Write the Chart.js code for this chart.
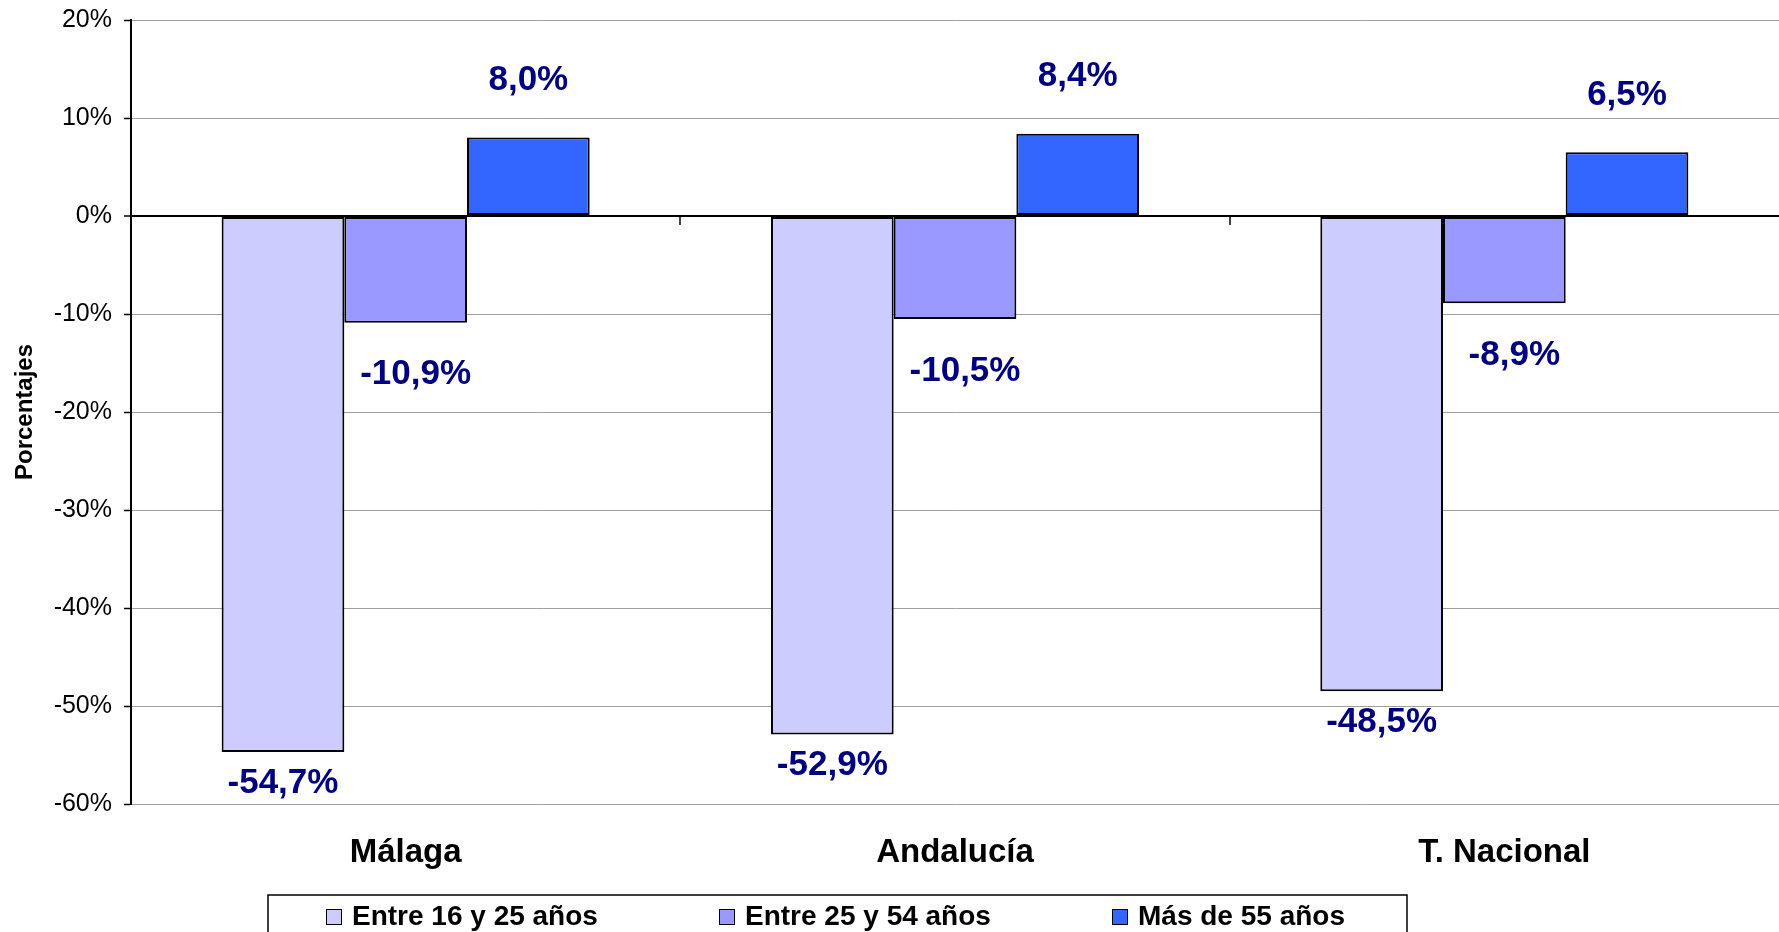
<!DOCTYPE html>
<html>
<head>
<meta charset="utf-8">
<title>Variación por grupos de edad</title>
<script src="https://cdn.jsdelivr.net/npm/chart.js@4.4.1/dist/chart.umd.min.js"></script>
<style>
  html, body { margin: 0; padding: 0; background: #fff; }
  canvas { display: block; }
</style>
</head>
<body>
<canvas id="canvas-1" width="1779" height="932"></canvas>
<script>
// datos
var territorios = ['Málaga', 'Andalucía', 'T. Nacional'];
var grupos = ['Entre 16 y 25 años', 'Entre 25 y 54 años', 'Más de 55 años'];
var entre16y25 = [-54.7, -52.9, -48.5];
var entre25y54 = [-10.9, -10.5, -8.9];
var masDe55 = [8.0, 8.4, 6.5];

var FONT = '"Liberation Sans", Arial, sans-serif';
var colores = ['#CCCCFF', '#9999FF', '#3366FF'];

var fmt = function (v) {
  return v.toFixed(1).replace('.', ',') + '%';
};

// etiquetas de valor sobre / bajo las barras
var valueLabels = {
  id: 'valueLabels',
  afterDatasetsDraw: function (chart) {
    var ctx = chart.ctx;
    ctx.save();
    ctx.font = 'bold 35px ' + FONT;
    ctx.fillStyle = '#000080';
    ctx.textAlign = 'center';
    ctx.textBaseline = 'middle';
    chart.data.datasets.forEach(function (ds, i) {
      chart.getDatasetMeta(i).data.forEach(function (bar, j) {
        var v = ds.data[j];
        var y = v >= 0 ? bar.y - ds.labelDy : bar.y + ds.labelDy;
        ctx.fillText(fmt(v), bar.x + ds.labelDx, y);
      });
    });
    ctx.restore();
  }
};

// marcas del eje de categorías sobre la línea del 0%
var categoryTicks = {
  id: 'categoryTicks',
  afterDatasetsDraw: function (chart) {
    var x = chart.scales.x, y = chart.scales.y;
    var y0 = y.getPixelForValue(0);
    var ctx = chart.ctx;
    ctx.save();
    ctx.strokeStyle = '#000';
    ctx.lineWidth = 1.5;
    for (var i = 0; i < territorios.length - 1; i++) {
      var px = Math.round((x.getPixelForValue(i) + x.getPixelForValue(i + 1)) / 2);
      ctx.beginPath();
      ctx.moveTo(px, y0);
      ctx.lineTo(px, y0 + 9);
      ctx.stroke();
    }
    ctx.restore();
  }
};

// leyenda con recuadro, al estilo de Excel
var boxedLegend = {
  id: 'boxedLegend',
  afterDraw: function (chart) {
    var ctx = chart.ctx;
    ctx.save();
    ctx.strokeStyle = '#000';
    ctx.lineWidth = 1.5;
    ctx.strokeRect(268, 895, 1139, 60);
    ctx.font = 'bold 28px ' + FONT;
    ctx.textBaseline = 'middle';
    ctx.textAlign = 'left';
    chart.data.datasets.forEach(function (ds, i) {
      var bx = 326 + i * 393;
      ctx.fillStyle = ds.backgroundColor;
      ctx.fillRect(bx, 909, 15, 15);
      ctx.lineWidth = 1;
      ctx.strokeRect(bx + 0.5, 909.5, 15, 15);
      ctx.fillStyle = '#000';
      ctx.fillText(ds.label, bx + 26, 917);
    });
    ctx.restore();
  }
};

var barChart = new Chart(document.getElementById('canvas-1'), {
  type: 'bar',
  data: {
    labels: territorios,
    datasets: [{
      label: grupos[0],
      data: entre16y25,
      backgroundColor: colores[0],
      labelDx: 0,
      labelDy: 31
    }, {
      label: grupos[1],
      data: entre25y54,
      backgroundColor: colores[1],
      labelDx: 10,
      labelDy: 52
    }, {
      label: grupos[2],
      data: masDe55,
      backgroundColor: colores[2],
      labelDx: 0,
      labelDy: 57
    }]
  },
  options: {
    responsive: false,
    animation: false,
    devicePixelRatio: 1,
    layout: {
      padding: { left: 0, right: 0, top: 20, bottom: 0 }
    },
    datasets: {
      bar: {
        categoryPercentage: 0.67,
        barPercentage: 1.0,
        borderColor: '#000',
        borderWidth: 2,
        borderSkipped: false
      }
    },
    plugins: {
      legend: { display: false },
      tooltip: { enabled: false }
    },
    scales: {
      x: {
        offset: true,
        grid: { display: false, drawTicks: false },
        border: { display: false },
        ticks: {
          padding: 29,
          color: '#000',
          font: { family: FONT, size: 33, weight: 'bold' }
        },
        afterFit: function (scale) {
          scale.height = 128;
        }
      },
      y: {
        min: -60,
        max: 20,
        ticks: {
          stepSize: 10,
          padding: 12,
          color: '#000',
          font: { family: FONT, size: 25 },
          callback: function (v) { return v + '%'; }
        },
        grid: {
          color: function (c) { return c.tick && c.tick.value === 0 ? '#000' : '#a0a0a0'; },
          lineWidth: function (c) { return c.tick && c.tick.value === 0 ? 2 : 1; },
          tickLength: 7,
          tickColor: '#000',
          tickWidth: 1.5
        },
        border: { display: true, color: '#000', width: 2 },
        title: {
          display: true,
          text: 'Porcentajes',
          color: '#000',
          padding: { top: 11, bottom: 0 },
          font: { family: FONT, size: 24, weight: 'bold' }
        },
        afterFit: function (scale) {
          scale.width = 131;
          scale.paddingTop = 0;
          scale.paddingBottom = 0;
        }
      }
    }
  },
  plugins: [valueLabels, categoryTicks, boxedLegend]
});
</script>
</body>
</html>
